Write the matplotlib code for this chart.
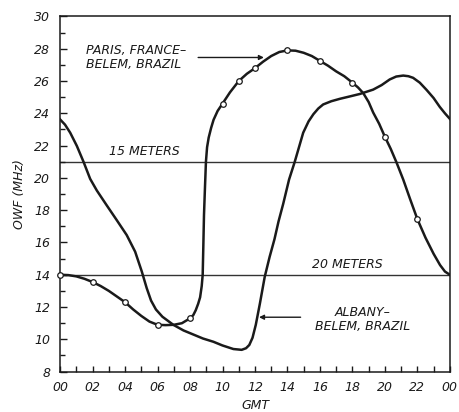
import numpy as np
import matplotlib
matplotlib.use('Agg')
import matplotlib.pyplot as plt
from matplotlib.ticker import MultipleLocator, FixedLocator

# Paris, France - Belem, Brazil
paris_hours = [0.0, 0.5, 1.0, 1.5, 2.0, 2.5, 3.0, 3.5, 4.0, 4.5, 5.0, 5.5, 6.0,
               6.5, 7.0, 7.5, 8.0, 8.2, 8.35, 8.5, 8.62, 8.72, 8.78, 8.82, 8.86,
               8.92, 8.98, 9.05, 9.15, 9.3, 9.45, 9.7, 10.0, 10.46, 11.0, 11.5,
               12.0, 12.5, 13.0, 13.5, 14.0, 14.5, 15.0, 15.5, 16.0, 16.5, 17.0,
               17.5, 18.0, 18.35, 18.67, 19.0, 19.28, 19.65, 20.0, 20.36, 20.72,
               21.13, 21.55, 22.0, 22.5, 23.0, 23.4, 23.7, 24.0]
paris_mhz = [14.0, 13.98, 13.9, 13.75, 13.55, 13.3, 13.0, 12.65, 12.3, 11.85,
             11.45, 11.1, 10.9, 10.88, 10.9, 11.0, 11.3, 11.5, 11.8, 12.2, 12.6,
             13.3, 14.0, 15.8, 17.7, 19.4, 21.0, 21.9, 22.5, 23.1, 23.6, 24.15,
             24.6, 25.3, 26.0, 26.45, 26.8, 27.2, 27.55, 27.8, 27.9, 27.88,
             27.75, 27.55, 27.25, 26.95, 26.6, 26.3, 25.9, 25.6, 25.25, 24.7,
             24.05, 23.35, 22.55, 21.8, 20.95, 19.9, 18.7, 17.45, 16.3, 15.3,
             14.6, 14.2, 14.0]

# plotted (circle) points on the Paris curve
paris_pt_hours = [0, 2, 4, 6, 8, 10, 11, 12, 14, 16, 18, 20, 22]
paris_pt_mhz = [14.0, 13.55, 12.3, 10.9, 11.3, 24.6, 26.0, 26.8, 27.9, 27.25,
                25.9, 22.55, 17.45]

# Albany - Belem, Brazil
albany_hours = [0.0, 0.3, 0.62, 1.03, 1.44, 1.85, 2.26, 2.87, 3.49, 4.1, 4.62,
                5.03, 5.33, 5.6, 5.9, 6.3, 6.97, 7.6, 8.2, 8.8, 9.44, 10.0,
                10.67, 11.18, 11.45, 11.65, 11.85, 12.05, 12.3, 12.6, 12.9, 13.2,
                13.45, 13.74, 14.1, 14.45, 14.97, 15.3, 15.6, 15.9, 16.2, 16.7,
                17.23, 17.85, 18.46, 19.28, 19.8, 20.3, 20.7, 21.13, 21.45, 21.74,
                22.15, 22.57, 23.0, 23.38, 23.7, 24.0]
albany_mhz = [23.62, 23.3, 22.8, 21.98, 21.0, 19.94, 19.22, 18.3, 17.38, 16.46,
              15.43, 14.2, 13.18, 12.4, 11.85, 11.4, 10.9, 10.55, 10.3, 10.05,
              9.85, 9.62, 9.4, 9.35, 9.45, 9.65, 10.1, 10.9, 12.2, 13.87, 15.1,
              16.2, 17.3, 18.4, 19.9, 21.0, 22.8, 23.5, 23.95, 24.3, 24.55,
              24.75, 24.9, 25.05, 25.2, 25.47, 25.75, 26.1, 26.28, 26.34, 26.3,
              26.2, 25.9, 25.45, 24.95, 24.4, 24.0, 23.66]

band_mhz = [21.0, 14.0]
band_names = ['15 METERS', '20 METERS']

x_ticks = list(range(0, 25, 2))
x_ticklabels = ['00', '02', '04', '06', '08', '10', '12', '14', '16', '18', '20', '22', '00']
y_ticks = list(range(8, 31, 2))

ink = '#1a1a1a'
fs = 9

fig = plt.figure(figsize=(4.59, 4.12), dpi=100)
ax = fig.add_axes([0.131, 0.098, 0.849, 0.862])

# band reference lines
for f in band_mhz:
    ax.axhline(f, color='#333333', lw=1.0, zorder=1)

ax.plot(paris_hours, paris_mhz, color=ink, lw=1.8, solid_joinstyle='round', zorder=3)
ax.plot(albany_hours, albany_mhz, color=ink, lw=1.8, solid_joinstyle='round', zorder=3)
ax.plot(paris_pt_hours, paris_pt_mhz, 'o', ms=4, mfc='white', mec=ink, mew=0.9,
        zorder=4, clip_on=False)

txt = dict(color=ink, fontsize=fs, fontstyle='italic')
ax.text(5.2, 21.25, band_names[0], ha='center', va='bottom', **txt)
ax.text(17.7, 14.25, band_names[1], ha='center', va='bottom', **txt)

ax.text(1.6, 27.43, 'PARIS, FRANCE\u2013\nBELEM, BRAZIL', ha='left', va='center',
        linespacing=1.1, **txt)
ax.annotate('', xy=(12.55, 27.46), xytext=(8.5, 27.46),
            arrowprops=dict(arrowstyle='-|>', color=ink, lw=1.0,
                            mutation_scale=7, shrinkA=0, shrinkB=0))

ax.text(18.63, 11.23, 'ALBANY\u2013\nBELEM, BRAZIL', ha='center', va='center',
        multialignment='center', linespacing=1.1, **txt)
ax.annotate('', xy=(12.25, 11.37), xytext=(14.81, 11.37),
            arrowprops=dict(arrowstyle='-|>', color=ink, lw=1.0,
                            mutation_scale=7, shrinkA=0, shrinkB=0))

ax.set_xlim(0, 24)
ax.set_ylim(8, 30)
ax.xaxis.set_major_locator(FixedLocator(x_ticks))
ax.set_xticklabels(x_ticklabels)
ax.xaxis.set_minor_locator(MultipleLocator(1))
ax.yaxis.set_major_locator(FixedLocator(y_ticks))
ax.yaxis.set_minor_locator(MultipleLocator(1))

ax.tick_params(which='both', direction='in', colors=ink, labelsize=fs, width=1.0)
ax.tick_params(axis='y', which='major', length=5, pad=7)
ax.tick_params(axis='y', which='minor', length=3.5)
ax.tick_params(axis='x', which='major', length=4, pad=7)
ax.tick_params(axis='x', which='minor', length=4)
for lab in ax.get_xticklabels() + ax.get_yticklabels():
    lab.set_fontstyle('italic')

for sp in ax.spines.values():
    sp.set_color(ink)
    sp.set_linewidth(1.1)

ax.set_xlabel('GMT', labelpad=3, **txt)
ax.set_ylabel('OWF (MHz)', labelpad=6, **txt)

fig.savefig('out.png', dpi=100)
